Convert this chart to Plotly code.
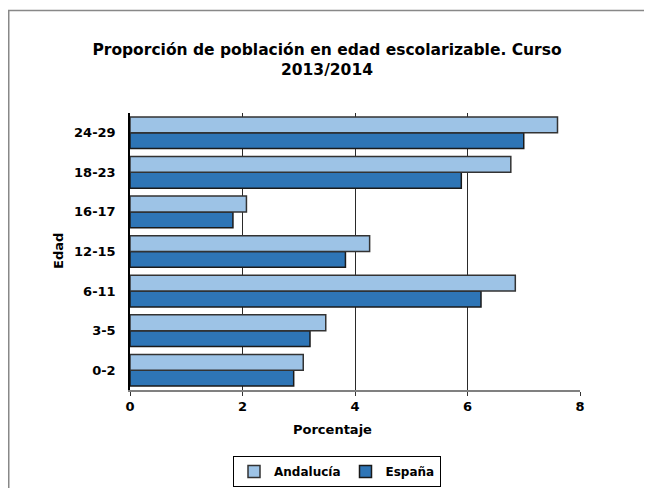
import plotly.graph_objects as go

categorias = ["0-2", "3-5", "6-11", "12-15", "16-17", "18-23", "24-29"]
andalucia = [3.08, 3.48, 6.85, 4.26, 2.07, 6.77, 7.60]
espana = [2.91, 3.20, 6.24, 3.83, 1.83, 5.89, 7.00]
x_ticks = [0, 2, 4, 6, 8]

FONT = "DejaVu Sans"
OFF = 8  # page body margin
W, H = 652, 488
L, R, T, B = 130 - OFF, 652 - (580 - OFF), 113 - OFF, 488 - (390 - OFF)
pw, ph = W - L - R, H - T - B

def px(x):
    return (x - OFF - L) / pw

def py(y):
    return (H - B - (y - OFF)) / ph

fig = go.Figure()
fig.add_trace(go.Bar(
    y=categorias, x=espana, name="<b>España</b>", orientation="h",
    marker=dict(color="#2E75B6", line=dict(color="#1a1a1a", width=1.5)),
    legendrank=2,
))
fig.add_trace(go.Bar(
    y=categorias, x=andalucia, name="<b>Andalucía</b>", orientation="h",
    marker=dict(color="#9DC3E6", line=dict(color="#333333", width=1.5)),
    legendrank=1,
))

fig.update_layout(
    width=W, height=H,
    margin=dict(l=L, r=R, t=T, b=B, autoexpand=False),
    paper_bgcolor="white", plot_bgcolor="white",
    barmode="group", bargap=0.2, bargroupgap=0,
    font=dict(family=FONT, size=13, color="black"),
    title=dict(
        text="<b>Proporción de población en edad escolarizable. Curso<br>2013/2014</b>",
        x=(327 - OFF) / W, xanchor="center", xref="container",
        y=(H - (54.5 - OFF)) / H, yanchor="middle", yref="container",
        font=dict(family=FONT, size=15.5, color="black"),
    ),
    xaxis=dict(
        range=[0, 8], tickvals=x_ticks, ticktext=[f"<b>{v}</b>" for v in x_ticks],
        showgrid=True, gridcolor="#2a2a2a", gridwidth=1.3,
        showline=True, linecolor="#808080", linewidth=1.5,
        ticks="outside", ticklen=4, tickcolor="#333333",
        zeroline=False, fixedrange=True,
    ),
    yaxis=dict(
        categoryorder="array", categoryarray=categorias,
        tickvals=categorias, ticktext=[f"<b>{c}</b>" for c in categorias],
        showgrid=False, showline=True, linecolor="black", linewidth=1.5,
        ticks="", ticklabelstandoff=10, fixedrange=True,
    ),
    showlegend=True,
    legend=dict(
        orientation="h", x=px(337), xanchor="center", y=py(471.5), yanchor="middle",
        bordercolor="black", borderwidth=1, bgcolor="white",
        font=dict(family=FONT, size=12, color="black"),
        itemwidth=30, traceorder="normal",
    ),
    shapes=[dict(
        type="rect", xref="paper", yref="paper",
        x0=px(8.75), y0=py(520), x1=px(700), y1=py(10.5),
        line=dict(color="#888888", width=1.5), fillcolor="rgba(0,0,0,0)", layer="below",
    )],
    annotations=[
        dict(text="<b>Porcentaje</b>", xref="paper", yref="paper",
             x=px(332), y=py(429), xanchor="center", yanchor="middle",
             showarrow=False, font=dict(family=FONT, size=13, color="black")),
        dict(text="<b>Edad</b>", xref="paper", yref="paper",
             x=px(58), y=py(251), xanchor="center", yanchor="middle", textangle=-90,
             showarrow=False, font=dict(family=FONT, size=13, color="black")),
    ],
)

fig.write_html("out.html")
